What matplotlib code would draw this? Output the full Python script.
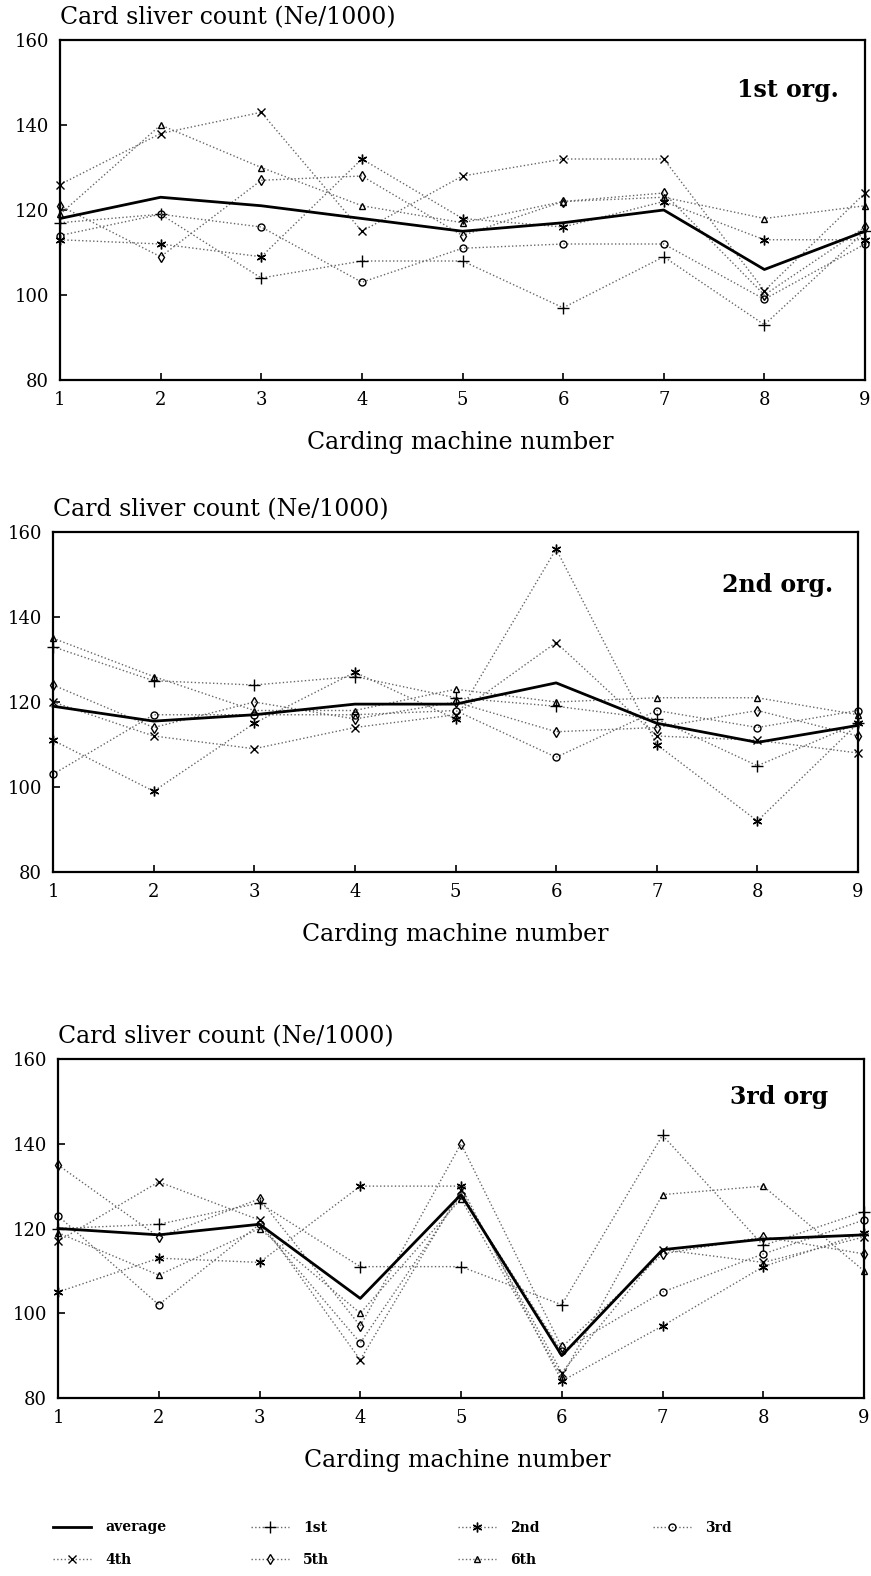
import matplotlib.pyplot as plt
import numpy as np

plt.rcParams['font.family'] = ['DejaVu Serif']

machines = [1, 2, 3, 4, 5, 6, 7, 8, 9]
series_names = ['1st', '2nd', '3rd', '4th', '5th', '6th']

# 1st org.
avg_1 = [118, 123, 121, 118, 115, 117, 120, 106, 115]
org1 = {
    '1st': [117, 119, 104, 108, 108, 97, 109, 93, 115],
    '2nd': [113, 112, 109, 132, 118, 116, 122, 113, 113],
    '3rd': [114, 119, 116, 103, 111, 112, 112, 99, 112],
    '4th': [126, 138, 143, 115, 128, 132, 132, 101, 124],
    '5th': [121, 109, 127, 128, 114, 122, 124, 100, 116],
    '6th': [119, 140, 130, 121, 117, 122, 123, 118, 121],
}
# 2nd org.
avg_2 = [119, 115.5, 117, 119.5, 119.5, 124.5, 115, 110.5, 114.5]
org2 = {
    '1st': [133, 125, 124, 126, 121, 119, 116, 105, 115],
    '2nd': [111, 99, 115, 127, 116, 156, 110, 92, 115],
    '3rd': [103, 117, 117, 117, 118, 107, 118, 114, 118],
    '4th': [120, 112, 109, 114, 117, 134, 112, 111, 108],
    '5th': [124, 114, 120, 116, 120, 113, 114, 118, 112],
    '6th': [135, 126, 118, 118, 123, 120, 121, 121, 117],
}
# 3rd org
avg_3 = [120, 118.5, 121, 103.5, 128, 90, 115, 117.5, 118.5]
org3 = {
    '1st': [120, 121, 126, 111, 111, 102, 142, 116, 124],
    '2nd': [105, 113, 112, 130, 130, 84, 97, 111, 119],
    '3rd': [123, 102, 121, 93, 128, 91, 105, 114, 122],
    '4th': [117, 131, 122, 89, 129, 86, 115, 112, 118],
    '5th': [135, 118, 127, 97, 140, 92, 114, 118, 114],
    '6th': [119, 109, 120, 100, 127, 85, 128, 130, 110],
}

markers = {'1st': '+', '2nd': (6, 2, 0), '3rd': 'o', '4th': 'x', '5th': 'd', '6th': '^'}
msizes = {'1st': 8, '2nd': 7, '3rd': 5, '4th': 6, '5th': 5, '6th': 5}

W, H = 871, 1576
fig = plt.figure(figsize=(W / 100, H / 100), dpi=100)


def px_rect(l, t, r, b):
    return [l / W, 1 - b / H, (r - l) / W, (b - t) / H]


# data, tag, axes box (px), xlabel centre, tag position (axes fraction)
panels = [
    (avg_1, org1, '1st org.', (60, 40, 865, 380), 460, (0.968, 0.853)),
    (avg_2, org2, '2nd org.', (53, 532, 858, 872), 455, (0.969, 0.845)),
    (avg_3, org3, '3rd org', (58, 1059, 864, 1398), 457, (0.955, 0.888)),
]

handles = {}
for avg, org, tag, (l, t, r, b), xc, tagpos in panels:
    ax = fig.add_axes(px_rect(l, t, r, b))
    for name in series_names:
        h, = ax.plot(machines, org[name], linestyle=':', color='#666666', linewidth=1,
                     marker=markers[name], markersize=msizes[name], markerfacecolor='none',
                     markeredgecolor='black', markeredgewidth=1, clip_on=False)
        handles[name] = h
    h, = ax.plot(machines, avg, '-', color='black', linewidth=2, clip_on=False)
    handles['average'] = h
    ax.set_xlim(1, 9)
    ax.set_ylim(80, 160)
    ax.set_xticks(machines)
    ax.set_yticks([80, 100, 120, 140, 160])
    ax.tick_params(direction='in', length=5, width=1.2, labelsize=13, pad=8)
    for s in ax.spines.values():
        s.set_linewidth(1.6)
    ax.text(tagpos[0], tagpos[1], tag, transform=ax.transAxes, ha='right', va='center',
            fontsize=17, fontweight='bold')
    fig.text(l / W, 1 - (t - 22) / H, 'Card sliver count (Ne/1000)', ha='left', va='center',
             fontsize=17)
    fig.text(xc / W, 1 - (b + 62) / H, 'Carding machine number', ha='center', va='center',
             fontsize=17)

# legend: four columns laid out as in the original
legend_cols = [(['average', '4th'], 40), (['1st', '5th'], 238), (['2nd', '6th'], 445),
               (['3rd'], 640)]
for keys, xpx in legend_cols:
    leg = fig.legend([handles[k] for k in keys], keys, loc='upper left',
                     bbox_to_anchor=(xpx / W, 1 - 1508 / H), frameon=False,
                     handlelength=2.8, handletextpad=1.0, labelspacing=1.3,
                     prop={'weight': 'bold', 'size': 10})

plt.savefig('out.png', dpi=100)
